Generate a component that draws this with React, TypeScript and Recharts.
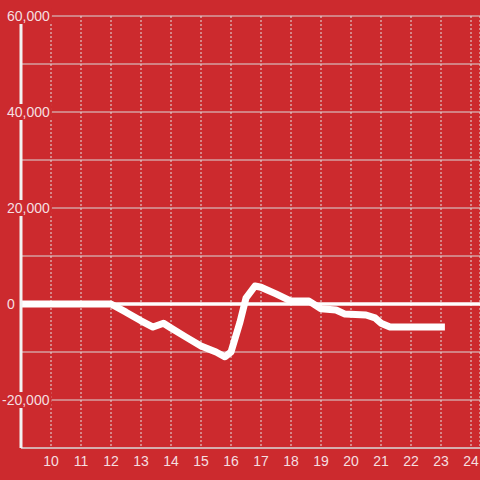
import { LineChart, Line, XAxis, YAxis, CartesianGrid, ReferenceLine } from "recharts";

const hours = [9, 12, 12.5, 13, 13.4, 13.75, 14, 14.5, 15, 15.5, 15.8, 16, 16.3, 16.5, 16.8, 17, 17.5, 18, 18.6, 19, 19.5, 19.8, 20.5, 20.8, 21, 21.3, 23.13];
const values = [0, 0, -1700, -3500, -4800, -4000, -5000, -6900, -8750, -10000, -11000, -10000, -3750, 1250, 3750, 3500, 2100, 600, 600, -1000, -1250, -2100, -2300, -2900, -4000, -4800, -4800];

const xTicks = [10, 11, 12, 13, 14, 15, 16, 17, 18, 19, 20, 21, 22, 23, 24];
const yTicks = [-30000, -20000, -10000, 0, 10000, 20000, 30000, 40000, 50000, 60000];
const yLabelled = [-20000, 0, 20000, 40000, 60000];

const data = hours.map((h, i) => ({ hour: h, value: values[i] }));

const BG = "#cc2a2e";
const TEXT = "#f5dfe0";
const FONT = "'Liberation Sans', Arial, sans-serif";

// rough glyph widths at 14px
const textWidth = (s: string) =>
  s.split("").reduce((w, c) => w + (c === "," ? 3.9 : c === "-" ? 4.7 : 7.8), 0);

function YTick(props: any) {
  const { y, payload } = props;
  const v = payload.value as number;
  if (!yLabelled.includes(v)) return <g />;
  const label = v.toLocaleString("en-US");
  const tx = v < 0 ? 2 : 7;
  const w = textWidth(label);
  return (
    <g>
      <rect x={tx - 2} y={y - 8} width={w + 4} height={16} fill={BG} />
      <text x={tx} y={y + 5} fill={TEXT} fontSize={14} fontFamily={FONT} textAnchor="start">
        {label}
      </text>
    </g>
  );
}

export default function App() {
  return (
    <div style={{ position: "absolute", left: 0, top: 0, width: 480, height: 480, background: BG }}>
      <LineChart width={480} height={480} data={data} margin={{ top: 16, right: 0, left: 0, bottom: 0 }}>
        <CartesianGrid horizontal={false} stroke="#e2e2e2" strokeDasharray="2 2" />
        <CartesianGrid vertical={false} stroke="#d9d9d9" />
        <XAxis
          dataKey="hour"
          type="number"
          domain={[9, 24.3]}
          ticks={xTicks}
          axisLine={{ stroke: "#d9d9d9", strokeWidth: 1 }}
          tickLine={false}
          tick={{ fill: TEXT, fontSize: 14, fontFamily: FONT }}
          height={32}
        />
        <YAxis
          type="number"
          domain={[-30000, 60000]}
          ticks={yTicks}
          width={21}
          axisLine={{ stroke: "#f2f2f2", strokeWidth: 3 }}
          tickLine={false}
          tick={<YTick />}
          interval={0}
        />
        <ReferenceLine y={0} stroke="#ffffff" strokeWidth={3.5} />
        <Line
          type="linear"
          dataKey="value"
          stroke="#ffffff"
          strokeWidth={7}
          strokeLinejoin="round"
          dot={false}
          isAnimationActive={false}
        />
      </LineChart>
    </div>
  );
}
